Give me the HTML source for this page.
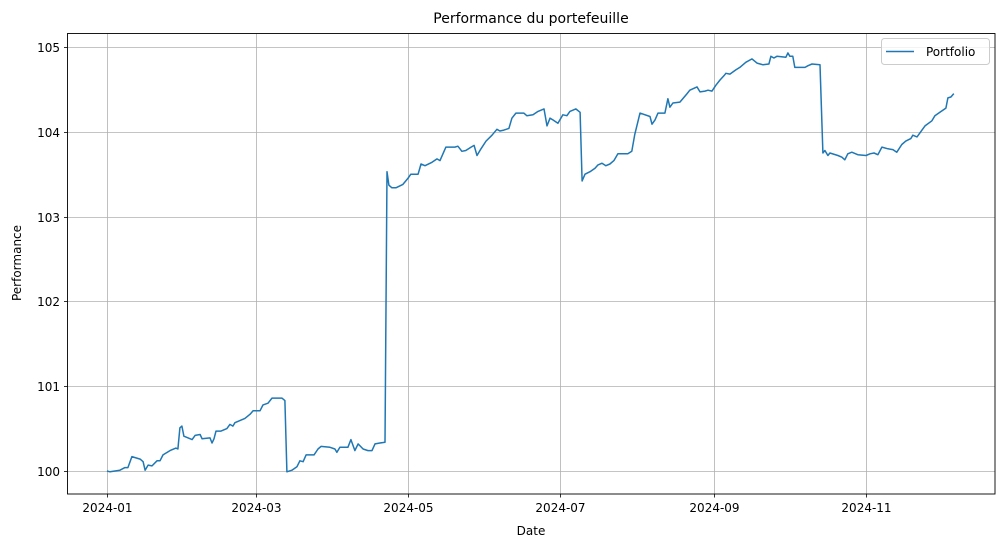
<!DOCTYPE html>
<html><head><meta charset="utf-8"><style>
body{margin:0;background:#fff;}
svg{display:block;font-family:"DejaVu Sans","Liberation Sans",sans-serif;}
</style></head><body>
<svg id="chart" width="1005" height="547" viewBox="0 0 1005 547">
<rect x="0" y="0" width="1005" height="547" fill="#fff"/>
<g id="grid"></g>
<g id="xticks"></g>
<g id="yticks"></g>
<path id="line" fill="none" stroke="#1f77b4" stroke-width="1.5" stroke-linejoin="round"/>
<rect x="67.5" y="33.5" width="927.5" height="460.5" fill="none" stroke="#000" stroke-width="0.9"/>
<text x="531" y="23" font-size="14" text-anchor="middle">Performance du portefeuille</text>
<text x="531" y="535" font-size="12" text-anchor="middle">Date</text>
<text x="21" y="263" font-size="12" text-anchor="middle" transform="rotate(-90 21 263)">Performance</text>
<g>
<rect x="881.5" y="38.5" width="108" height="26" rx="3" fill="#fff" fill-opacity="0.8" stroke="#ccc"/>
<line x1="886" y1="51.5" x2="914" y2="51.5" stroke="#1f77b4" stroke-width="1.5"/>
<text x="926" y="56" font-size="12">Portfolio</text>
</g>
</svg>
<script>
const days=[0,1.2,5.2,7.2,8.4,10.0,13.3,14.5,15.3,16.5,18.1,20.1,21.3,22.5,25.3,27.7,28.5,29.3,30.1,30.9,34.2,35.4,37.4,38.2,41.4,42.2,43.0,43.8,45.8,48.2,49.4,50.6,51.4,55.4,57.5,58.7,61.5,62.7,64.7,66.3,70.3,71.5,72.3,74.3,76.3,77.5,78.8,80.0,83.2,84.8,86.0,89.6,91.6,92.4,93.6,96.8,98.0,99.6,100.9,102.9,104.9,106.5,107.7,109.7,111.7,112.5,113.3,114.5,116.1,118.9,120.9,122.1,125.0,126.2,127.8,130.6,132.6,133.8,136.2,139.8,141.0,142.6,144.2,146.3,147.5,148.7,150.3,152.3,154.7,156.7,157.9,159.5,161.5,162.7,164.3,167.5,168.7,171.2,173.2,175.6,176.8,178.0,179.2,181.2,183.2,184.8,186.0,188.4,190.1,190.9,192.1,194.1,196.1,197.3,198.9,200.5,202.1,203.7,205.3,209.3,210.9,212.1,214.2,218.2,219.0,220.2,221.4,224.2,225.4,226.2,227.4,230.2,233.1,234.2,237.1,238.3,240.3,241.5,243.1,244.7,246.3,247.9,248.7,250.3,252.7,254.3,256.7,259.2,261.2,263.6,266.0,266.8,268.0,269.2,272.8,273.6,274.4,275.6,276.4,280.5,281.7,283.3,286.5,287.7,288.5,289.7,290.5,293.7,295.3,296.5,297.7,299.3,301.7,305.0,306.6,308.2,309.8,311.4,313.8,315.8,317.4,319.4,321.0,323.0,323.8,325.5,328.7,331.5,332.7,334.7,337.1,337.9,339.1,340.3];
const values=[100.00,99.99,100.01,100.04,100.04,100.17,100.14,100.11,100.01,100.07,100.06,100.12,100.12,100.19,100.24,100.27,100.26,100.51,100.53,100.41,100.37,100.42,100.43,100.38,100.39,100.33,100.38,100.47,100.47,100.50,100.55,100.53,100.57,100.62,100.67,100.71,100.71,100.78,100.80,100.86,100.86,100.83,99.99,100.01,100.05,100.12,100.11,100.19,100.19,100.26,100.29,100.28,100.26,100.22,100.28,100.28,100.37,100.24,100.32,100.26,100.24,100.24,100.32,100.33,100.34,103.53,103.37,103.34,103.34,103.38,103.45,103.50,103.50,103.62,103.60,103.64,103.68,103.66,103.82,103.82,103.83,103.77,103.78,103.82,103.84,103.72,103.80,103.89,103.96,104.03,104.01,104.02,104.04,104.16,104.22,104.22,104.19,104.20,104.24,104.27,104.07,104.16,104.14,104.10,104.20,104.19,104.24,104.27,104.23,103.42,103.50,103.53,103.57,103.61,103.63,103.60,103.62,103.66,103.74,103.74,103.77,103.97,104.22,104.18,104.09,104.14,104.22,104.22,104.39,104.29,104.34,104.35,104.45,104.49,104.53,104.47,104.48,104.49,104.48,104.55,104.61,104.66,104.69,104.68,104.73,104.76,104.82,104.86,104.81,104.79,104.80,104.89,104.87,104.89,104.88,104.93,104.89,104.89,104.76,104.76,104.78,104.80,104.79,103.75,103.78,103.72,103.75,103.72,103.70,103.67,103.74,103.76,103.73,103.72,103.74,103.75,103.73,103.82,103.80,103.79,103.76,103.85,103.89,103.92,103.96,103.94,104.07,104.13,104.19,104.23,104.28,104.40,104.41,104.45];
const xTickDays=[0,60,121,182,244,305];
const xTickLabels=["2024-01","2024-03","2024-05","2024-07","2024-09","2024-11"];
const yTicks=[100,101,102,103,104,105];

const X=d=>107+d*2.4885;
const Y=v=>471-(v-100)*84.8;
const NS="http://www.w3.org/2000/svg";
function mk(parent,tag,attrs){const e=document.createElementNS(NS,tag);for(const k in attrs)e.setAttribute(k,attrs[k]);parent.appendChild(e);return e;}
const grid=document.getElementById('grid'),xg=document.getElementById('xticks'),yg=document.getElementById('yticks');
xTickDays.forEach((d,i)=>{
  const x=Math.round(X(d))+0.5;
  const gl=mk(grid,'line',{x1:x,x2:x,y1:33.5,y2:494,stroke:'#b0b0b0','stroke-width':0.8});
  
  
  const t=mk(xg,'line',{x1:x,x2:x,y1:494,y2:497.5,stroke:'#000','stroke-width':0.8});
  
  
  const lb=mk(xg,'text',{x:x,y:512,'font-size':12,'text-anchor':'middle'});
  lb.textContent=xTickLabels[i];
  
  
});
yTicks.forEach(v=>{
  const y=Math.round(Y(v))+0.5;
  const gl=mk(grid,'line',{x1:67.5,x2:995,y1:y,y2:y,stroke:'#b0b0b0','stroke-width':0.8});
  
  
  const t=mk(yg,'line',{x1:64,x2:67.5,y1:y,y2:y,stroke:'#000','stroke-width':0.8});
  
  
  const lb=mk(yg,'text',{x:60,y:y+4.5,'font-size':12,'text-anchor':'end'});
  lb.textContent=String(v);
  
  
});
document.getElementById('line').setAttribute('d',days.map((d,i)=>(i?'L':'M')+X(d).toFixed(1)+' '+Y(values[i]).toFixed(1)).join(' '));
</script>
</body></html>
